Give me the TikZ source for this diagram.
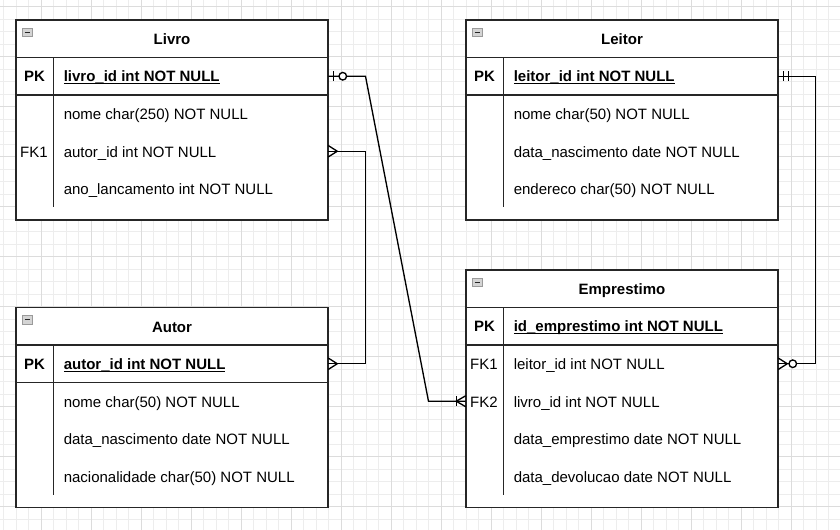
\documentclass[tikz,border=0pt]{standalone}
\usepackage{fontspec}
\setmainfont{Liberation Sans}
\usetikzlibrary{calc}
\definecolor{gridminor}{HTML}{EDEDED}
\definecolor{gridmajor}{HTML}{DCDCDC}
\definecolor{iconfill}{HTML}{D4D4D4}
\definecolor{iconline}{HTML}{9A9A9A}
\newcommand\pkul[1]{\setbox0\hbox{#1}\rlap{\rule[-1.7pt]{\wd0}{0.9pt}}\box0}
\newcommand\erfs{\fontsize{11.25}{13.5}\selectfont}
\tikzset{
  tframe/.style={draw=black!85, line width=1pt, fill=white, inner sep=0pt, minimum width=234pt},
  tline/.style={draw=black!85, line width=1pt},
  rowbox/.style={draw=none, inner sep=0pt, minimum width=234pt, minimum height=27pt},
  ttitle/.style={anchor=base, font=\erfs\bfseries, inner sep=0pt},
  keylbl/.style={anchor=base, font=\erfs, inner sep=0pt},
  pklbl/.style={anchor=base, font=\erfs\bfseries, inner sep=0pt},
  fieldtxt/.style={anchor=base west, font=\erfs, inner sep=0pt},
  pkfield/.style={anchor=base west, font=\erfs\bfseries, inner sep=0pt},
  conn/.style={draw=black, line width=1pt},
  ermark/.style={draw=black, line width=1pt},
}
\newcommand\collapseicon[2]{%
  \draw[fill=iconfill, draw=iconline, line width=0.6pt] (#1,#2) rectangle ++(10.5,8.5);
  \draw[black!85, line width=1pt] ($(#1,#2)+(2.5,4.25)$) -- ++(5.5,0);
}
\begin{document}
\begin{tikzpicture}[x=0.75pt, y=-0.75pt, font=\erfs]
% background and bounds
\fill[white] (0,0) rectangle (840,530);
\useasboundingbox (0,0) rectangle (840,530);
% grid
\foreach \xx in {3.5,16,...,840} \draw[gridminor, line width=0.75pt] (\xx,0) -- (\xx,530);
\foreach \yy in {7,19.5,...,530} \draw[gridminor, line width=0.75pt] (0,\yy) -- (840,\yy);
\foreach \xx in {41,91,...,840} \draw[gridmajor, line width=0.75pt] (\xx,0) -- (\xx,530);
\foreach \yy in {7,57,...,530} \draw[gridmajor, line width=0.75pt] (0,\yy) -- (840,\yy);

% ---------------- Livro ----------------
\node[tframe, minimum height=150pt] (livro) at (172,120) {};
\draw[tline] (16,57.5) -- (328,57.5);
\draw[tline] (16,95) -- (328,95);
\draw[tline] (53.5,57.5) -- (53.5,207.5);
\collapseicon{22}{28}
\node[ttitle] (livroT) at (172,45) {Livro};
\node[pklbl] (livroPKl) at (34.5,82) {PK};
\node[pkfield] (livroPKf) at (63.5,82) {\pkul{livro\_id int NOT NULL}};
\node[fieldtxt] (livroR1) at (63.5,120) {nome char(250) NOT NULL};
\node[keylbl] (livroFKl) at (34,157.5) {FK1};
\node[fieldtxt] (livroR2) at (63.5,157.5) {autor\_id int NOT NULL};
\node[fieldtxt] (livroR3) at (63.5,195) {ano\_lancamento int NOT NULL};
\node[rowbox] (livroPK) at (172,76.25) {};
\node[rowbox] (livroFK1) at (172,151.25) {};

% ---------------- Leitor ----------------
\node[tframe, minimum height=150pt] (leitor) at (622,120) {};
\draw[tline] (466,57.5) -- (778,57.5);
\draw[tline] (466,95) -- (778,95);
\draw[tline] (503.5,57.5) -- (503.5,207.5);
\collapseicon{472}{28}
\node[ttitle] (leitorT) at (622,45) {Leitor};
\node[pklbl] (leitorPKl) at (484.5,82) {PK};
\node[pkfield] (leitorPKf) at (513.5,82) {\pkul{leitor\_id int NOT NULL}};
\node[fieldtxt] (leitorR1) at (513.5,120) {nome char(50) NOT NULL};
\node[fieldtxt] (leitorR2) at (513.5,157.5) {data\_nascimento date NOT NULL};
\node[fieldtxt] (leitorR3) at (513.5,195) {endereco char(50) NOT NULL};
\node[rowbox] (leitorPK) at (622,76.25) {};

% ---------------- Autor ----------------
\node[tframe, minimum height=150pt] (autor) at (172,407.5) {};
\draw[tline] (16,345) -- (328,345);
\draw[tline] (16,382.5) -- (328,382.5);
\draw[tline] (53.5,345) -- (53.5,495);
\collapseicon{22}{315.5}
\node[ttitle] (autorT) at (172,332.5) {Autor};
\node[pklbl] (autorPKl) at (34.5,369.5) {PK};
\node[pkfield] (autorPKf) at (63.5,369.5) {\pkul{autor\_id int NOT NULL}};
\node[fieldtxt] (autorR1) at (63.5,407.5) {nome char(50) NOT NULL};
\node[fieldtxt] (autorR2) at (63.5,445) {data\_nascimento date NOT NULL};
\node[fieldtxt] (autorR3) at (63.5,482.5) {nacionalidade char(50) NOT NULL};
\node[rowbox] (autorPK) at (172,363.75) {};

% ---------------- Emprestimo ----------------
\node[tframe, minimum height=178.125pt] (empr) at (622,388.75) {};
\draw[tline] (466,307.5) -- (778,307.5);
\draw[tline] (466,345) -- (778,345);
\draw[tline] (503.5,307.5) -- (503.5,495);
\collapseicon{472}{278}
\node[ttitle] (emprT) at (622,295) {Emprestimo};
\node[pklbl] (emprPKl) at (484.5,332) {PK};
\node[pkfield] (emprPKf) at (513.5,332) {\pkul{id\_emprestimo int NOT NULL}};
\node[keylbl] (emprFK1l) at (484,370) {FK1};
\node[fieldtxt] (emprR1) at (513.5,370) {leitor\_id int NOT NULL};
\node[keylbl] (emprFK2l) at (484,407.5) {FK2};
\node[fieldtxt] (emprR2) at (513.5,407.5) {livro\_id int NOT NULL};
\node[fieldtxt] (emprR3) at (513.5,445) {data\_emprestimo date NOT NULL};
\node[fieldtxt] (emprR4) at (513.5,482.5) {data\_devolucao date NOT NULL};
\node[rowbox] (emprFK1) at (622,363.75) {};
\node[rowbox] (emprFK2) at (622,401.25) {};

% ---------------- Connectors ----------------
% Livro PK -> Emprestimo FK2
\draw[conn] (livroPK.east) -- (365.5,76.25) -- (428.5,401.25) -- (emprFK2.west);
\draw[ermark] ($(livroPK.east)+(5,-5)$) -- ($(livroPK.east)+(5,5)$);
\draw[ermark, fill=white] ($(livroPK.east)+(14.5,0)$) circle[radius=2.85pt];
\draw[ermark] ($(emprFK2.west)+(0,-5.5)$) -- ($(emprFK2.west)+(-9.5,0)$) -- ($(emprFK2.west)+(0,5.5)$);
\draw[ermark] ($(emprFK2.west)+(-9.5,-5)$) -- ($(emprFK2.west)+(-9.5,5)$);

% Livro FK1 -> Autor PK
\draw[conn] (livroFK1.east) -- (365.5,151.25) -- (365.5,363.75) -- (autorPK.east);
\draw[ermark] ($(livroFK1.east)+(0,-5.7)$) -- ($(livroFK1.east)+(9,0)$) -- ($(livroFK1.east)+(0,5.7)$);
\draw[ermark] ($(autorPK.east)+(0,-5.7)$) -- ($(autorPK.east)+(9,0)$) -- ($(autorPK.east)+(0,5.7)$);

% Leitor PK -> Emprestimo FK1
\draw[conn] (leitorPK.east) -- (815.5,76.25) -- (815.5,363.75) -- (emprFK1.east);
\draw[ermark] ($(leitorPK.east)+(5,-5)$) -- ($(leitorPK.east)+(5,5)$);
\draw[ermark] ($(leitorPK.east)+(10,-5)$) -- ($(leitorPK.east)+(10,5)$);
\draw[ermark] ($(emprFK1.east)+(0,-5.7)$) -- ($(emprFK1.east)+(9,0)$) -- ($(emprFK1.east)+(0,5.7)$);
\draw[ermark, fill=white] ($(emprFK1.east)+(14.5,0)$) circle[radius=2.85pt];
\end{tikzpicture}
\end{document}
